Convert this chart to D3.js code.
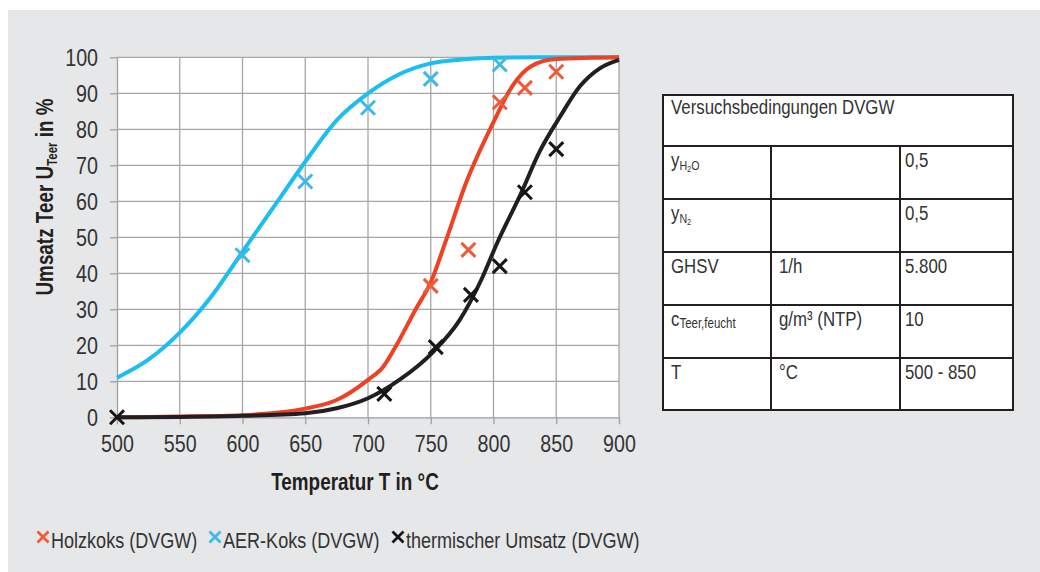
<!DOCTYPE html>
<html>
<head>
<meta charset="utf-8">
<script src="https://cdn.jsdelivr.net/npm/d3@7"></script>
<style>
  body { margin: 0; background: #fff; }
  svg { display: block; font-family: "Liberation Sans", Arial, sans-serif; }
  .tick text { fill: #333; font-size: 24px; }
  .axis path, .axis line { stroke: #a0a0a0; stroke-width: 1.3; }
  .grid line { stroke: #a6a6a6; stroke-width: 1.3; }
  .title { font-weight: bold; fill: #231f20; font-size: 23px; }
  .tbl text { fill: #333; font-size: 20.5px; }
</style>
</head>
<body>
<script>
// Umsatz Teer vs. Temperatur - curves and measured points

// axis ticks
var xTicks = [500, 550, 600, 650, 700, 750, 800, 850, 900];
var yTicks = [0, 10, 20, 30, 40, 50, 60, 70, 80, 90, 100];

// fitted curves
var blueCurveT = [500, 525, 550, 575, 600, 625, 650, 675, 700, 725, 750, 775, 800, 850, 900];
var blueCurveU = [11, 16, 23.5, 33.5, 46, 58.5, 71, 82.5, 90, 95.3, 98.3, 99.4, 99.9, 100, 100];

var redCurveT = [500, 550, 600, 625, 650, 675, 700, 712, 725, 738, 750, 762, 778, 800, 815, 830, 850, 900];
var redCurveU = [0, 0.2, 0.6, 1.2, 2.4, 4.8, 10.4, 14, 21.5, 30, 37.5, 49, 65, 82, 92, 97.5, 99.5, 100];

var blackCurveT = [500, 550, 600, 650, 675, 700, 725, 752, 773, 790, 803, 821, 837, 853, 869, 885, 900];
var blackCurveU = [0, 0.1, 0.4, 1.1, 2.5, 5.3, 10.4, 18.2, 27, 38, 48.5, 61.5, 74, 83.5, 92, 97, 99.3];

// measured points
var blueMarkT = [600, 650, 700, 750, 805];
var blueMarkU = [45, 65.5, 86, 94, 98];
var redMarkT = [750, 780, 805, 825, 850];
var redMarkU = [36.5, 46.5, 87.5, 91.5, 96];
var blackMarkT = [500, 713, 754, 782, 805, 825, 850];
var blackMarkU = [0, 6.5, 19.5, 34, 42, 62.5, 74.5];

var legendNames = ['Holzkoks (DVGW)', 'AER-Koks (DVGW)', 'thermischer Umsatz (DVGW)'];

// table rows: label, unit, value
var tblLabels = ['y|H|2|O', 'y|N|2', 'GHSV', 'c|Teer,feucht', 'T'];
var tblUnits = ['', '', '1/h', 'g/m³ (NTP)', '°C'];
var tblValues = ['0,5', '0,5', '5.800', '10', '500 - 850'];

var colors = { red: '#ef4123', blue: '#1cbdef', black: '#231f20' };
var markColors = { red: '#f05a3a', blue: '#3cb9e8', black: '#151515' };

var W = 1040, H = 572;
var margin = {top: 57.3, left: 117},
    width = 502,
    height = 360;

var svg = d3.select('body').append('svg')
  .attr('width', W)
  .attr('height', H);

// grey panel
svg.append('rect')
  .attr('x', 8).attr('y', 10)
  .attr('width', W - 8).attr('height', H - 10)
  .attr('fill', '#e6e7e8');

var g = svg.append('g')
  .attr('transform', 'translate(' + margin.left + ',' + margin.top + ')');

g.append('rect')
  .attr('width', width).attr('height', height)
  .attr('fill', '#fff');

var x = d3.scaleLinear().domain([500, 900]).range([0, width]);
var y = d3.scaleLinear().domain([0, 100]).range([height, 0]);

// grid
g.append('g').attr('class', 'grid')
  .selectAll('line').data(xTicks.slice(1)).enter().append('line')
  .attr('x1', function(d) { return x(d); }).attr('x2', function(d) { return x(d); })
  .attr('y1', 0).attr('y2', height);
g.append('g').attr('class', 'grid')
  .selectAll('line').data(yTicks.slice(1)).enter().append('line')
  .attr('x1', 0).attr('x2', width)
  .attr('y1', function(d) { return y(d); }).attr('y2', function(d) { return y(d); });

// axes
var xAxis = d3.axisBottom(x).tickValues(xTicks).tickSize(7).tickSizeOuter(0).tickPadding(6);
var yAxis = d3.axisLeft(y).tickValues(yTicks).tickSize(7).tickSizeOuter(0).tickPadding(12);

var gx = g.append('g')
  .attr('class', 'x axis')
  .attr('transform', 'translate(0,' + height + ')')
  .call(xAxis);
gx.selectAll('.tick text').attr('dy', '0.9em');

var gy = g.append('g')
  .attr('class', 'y axis')
  .call(yAxis);
gy.selectAll('.tick text').attr('dy', '0.36em');

// axis titles
svg.append('text')
  .attr('class', 'title')
  .attr('x', 355).attr('y', 490)
  .attr('text-anchor', 'middle')
  .text('Temperatur T in °C');

var yt = svg.append('text')
  .attr('class', 'title')
  .attr('transform', 'translate(53,197) rotate(-90)')
  .attr('text-anchor', 'middle');
yt.append('tspan').text('Umsatz Teer U');
yt.append('tspan').attr('font-size', '14px').attr('dy', 4).text('Teer');
yt.append('tspan').attr('dy', -4).text(' in %');

// curves
var line = d3.line()
  .x(function(d) { return x(d[0]); })
  .y(function(d) { return y(d[1]); })
  .curve(d3.curveMonotoneX);

function pairs(a, b) { return a.map(function(v, i) { return [v, b[i]]; }); }

var curves = [
  {c: colors.blue, d: pairs(blueCurveT, blueCurveU)},
  {c: colors.red, d: pairs(redCurveT, redCurveU)},
  {c: colors.black, d: pairs(blackCurveT, blackCurveU)}
];

g.selectAll('.curve')
  .data(curves)
  .enter().append('path')
  .attr('class', 'curve')
  .attr('fill', 'none')
  .attr('stroke', function(d) { return d.c; })
  .attr('stroke-width', 4)
  .attr('d', function(d) { return line(d.d); });

// x markers
function cross(s) {
  return 'M' + (-s) + ',' + (-s) + 'L' + s + ',' + s + 'M' + (-s) + ',' + s + 'L' + s + ',' + (-s);
}

var marks = [
  {c: markColors.blue, d: pairs(blueMarkT, blueMarkU)},
  {c: markColors.red, d: pairs(redMarkT, redMarkU)},
  {c: markColors.black, d: pairs(blackMarkT, blackMarkU)}
];

marks.forEach(function(m) {
  g.selectAll(null)
    .data(m.d)
    .enter().append('path')
    .attr('transform', function(d) { return 'translate(' + x(d[0]) + ',' + y(d[1]) + ')'; })
    .attr('d', cross(7))
    .attr('stroke', m.c)
    .attr('stroke-width', 3)
    .attr('fill', 'none');
});

// legend
var legX = [43, 215, 398];
var legC = [markColors.red, markColors.blue, markColors.black];
var leg = svg.append('g');
legendNames.forEach(function(name, i) {
  leg.append('path')
    .attr('transform', 'translate(' + legX[i] + ',537)')
    .attr('d', cross(5.5))
    .attr('stroke', legC[i])
    .attr('stroke-width', 2.8);
  leg.append('text')
    .attr('x', legX[i] + 8).attr('y', 548)
    .attr('font-size', '22px')
    .attr('fill', '#333')
    .text(name);
});

// conditions table
var rowY = [95, 146, 199, 252, 305, 358, 410];
var colX = [663, 771, 900, 1013];
var tbl = svg.append('g').attr('class', 'tbl');

tbl.append('rect')
  .attr('x', colX[0]).attr('y', rowY[0])
  .attr('width', colX[3] - colX[0]).attr('height', rowY[6] - rowY[0])
  .attr('fill', '#fff');

tbl.append('text')
  .attr('x', colX[0] + 8).attr('y', rowY[0] + 19)
  .text('Versuchsbedingungen DVGW');

tblLabels.forEach(function(lab, i) {
  var top = rowY[i + 1];
  var parts = lab.split('|');
  var t = tbl.append('text').attr('x', colX[0] + 8).attr('y', top + 21);
  t.append('tspan').text(parts[0]);
  if (parts.length > 1) {
    if (parts[0] === 'c') {
      t.append('tspan').attr('font-size', '14px').attr('dy', 2).text(parts[1]);
    } else {
      t.append('tspan').attr('font-size', '13px').attr('dy', 3).text(parts[1]);
      t.append('tspan').attr('font-size', '9px').attr('dy', 1.5).text(parts[2]);
      if (parts[3]) t.append('tspan').attr('font-size', '13px').attr('dy', -1.5).text(parts[3]);
    }
  }
  tbl.append('text').attr('x', colX[1] + 8).attr('y', top + 21).text(tblUnits[i]);
  tbl.append('text').attr('x', colX[2] + 5).attr('y', top + 21).text(tblValues[i]);
});

// borders
var bc = '#231f20';
tbl.append('rect')
  .attr('x', colX[0]).attr('y', rowY[0])
  .attr('width', colX[3] - colX[0]).attr('height', rowY[6] - rowY[0])
  .attr('fill', 'none').attr('stroke', bc).attr('stroke-width', 2);
tbl.selectAll('.hl')
  .data(rowY.slice(1, 6)).enter().append('line')
  .attr('x1', colX[0]).attr('x2', colX[3])
  .attr('y1', function(d) { return d; }).attr('y2', function(d) { return d; })
  .attr('stroke', bc).attr('stroke-width', 2);
tbl.selectAll('.vl')
  .data(colX.slice(1, 3)).enter().append('line')
  .attr('x1', function(d) { return d; }).attr('x2', function(d) { return d; })
  .attr('y1', rowY[1]).attr('y2', rowY[6])
  .attr('stroke', bc).attr('stroke-width', 2);

// no narrow font installed: squeeze every text to a condensed width
svg.selectAll('text').each(function() {
  if (!this.textContent) return;
  var len = this.getComputedTextLength();
  d3.select(this)
    .attr('textLength', (len * 0.82).toFixed(1))
    .attr('lengthAdjust', 'spacingAndGlyphs');
});
</script>
</body>
</html>
